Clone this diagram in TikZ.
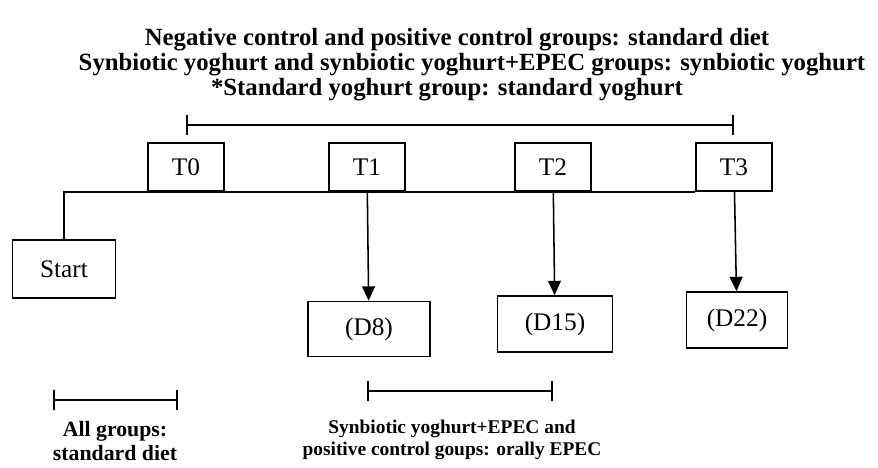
\documentclass[tikz,border=0pt]{standalone}
\usepackage{fontspec}
\setmainfont{Liberation Serif}
\usetikzlibrary{arrows.meta,positioning}
\tikzset{
  timebox/.style  ={draw,line width=1.1pt,align=center,font=\fontsize{18}{20}\selectfont,
                     minimum width=1.9cm,minimum height=1.2cm,anchor=south},
  daybox/.style   ={draw,line width=1.1pt,align=center,font=\fontsize{18}{20}\selectfont,
                     minimum height=1.4cm},
  notetext/.style ={anchor=base,font=\bfseries\fontsize{17.6}{20}\selectfont},
  periodtext/.style={align=center,inner sep=1pt,font=\bfseries\fontsize{13.8}{15.2}\selectfont},
  flow/.style     ={-{Triangle[length=3.6mm,width=3.2mm]},line width=1.1pt},
  spanbar/.style  ={{Bar[width=5mm,line width=1.1pt]}-{Bar[width=5mm,line width=1.1pt]},line width=1.1pt},
}
\begin{document}
\begin{tikzpicture}[x=0.025cm,y=-0.025cm]
\useasboundingbox (0,0) rectangle (878,467);
% Diet of each group
\node[notetext] (N1) at (457,45) {Negative control and positive control groups: standard diet};
\node[notetext] (N2) at (472,70) {Synbiotic yoghurt and synbiotic yoghurt+EPEC groups: synbiotic yoghurt};
\node[notetext] (N3) at (447,95) {*Standard yoghurt group: standard yoghurt};
% Time points on the timeline
\node[timebox] (T0) at (186,192) {T0};
\node[timebox] (T1) at (367,192) {T1};
\node[timebox] (T2) at (553,192) {T2};
\node[timebox] (T3) at (734,192) {T3};
% Start and sampling days
\node[daybox,minimum width=2.575cm,minimum height=1.45cm] (S) at (64,269) {Start};
\node[daybox,minimum width=3.05cm,minimum height=1.375cm] (D8) at (369,329) {(D8)};
\node[daybox,minimum width=2.875cm] (D15) at (555,324) {(D15)};
\node[daybox,minimum width=2.525cm] (D22) at (737,320) {(D22)};
% Timeline
\draw[line width=1.1pt] (S.north) |- (T3.south west);
\draw[flow] (T1) -- (D8); \draw[flow] (T2) -- (D15); \draw[flow] (T3) -- (D22);
% Feeding periods
\draw[spanbar] (T0.north |- 0,125) -- (T3.north |- 0,125);
\coordinate (b0) at (53,400); \coordinate (b1) at (178,400);
\draw[spanbar] (b0) -- (b1);
\node[periodtext,font=\bfseries\fontsize{15.5}{16.5}\selectfont] (P1) at (115,441) {All groups:\\standard diet};
\draw[spanbar] (T1.north |- 0,391) -- (T2.north |- 0,391);
\node[periodtext] (P2) at (452,440) {Synbiotic yoghurt+EPEC and\\positive control goups: orally EPEC};
\end{tikzpicture}
\end{document}
